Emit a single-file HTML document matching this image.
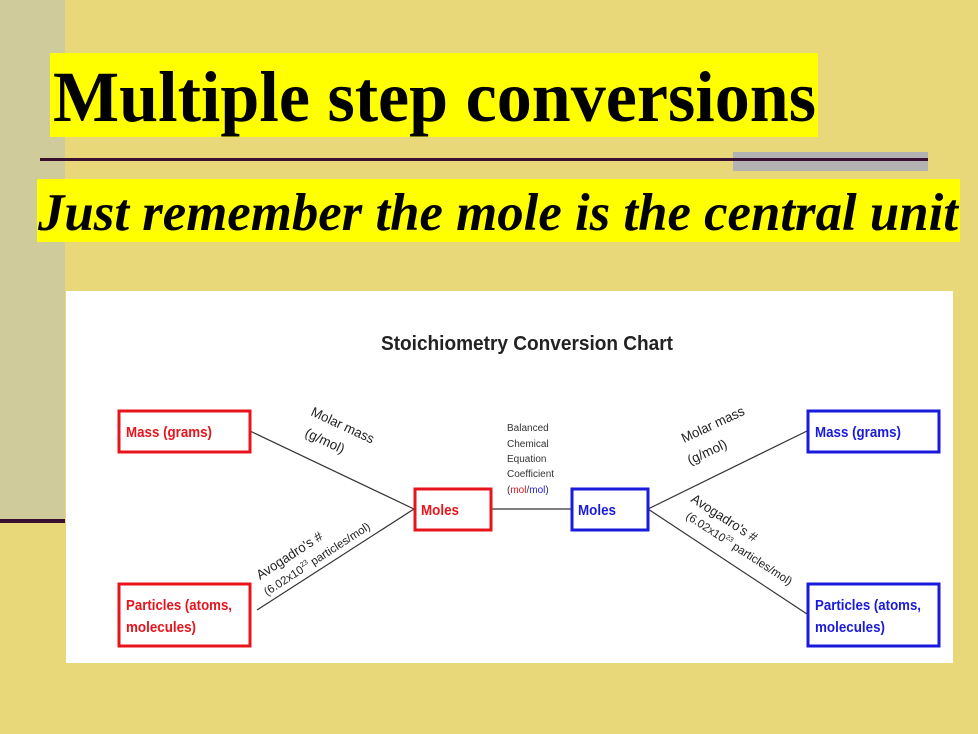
<!DOCTYPE html>
<html><head><meta charset="utf-8"><style>
body{margin:0;width:978px;height:734px;background:#E8D87A;position:relative;overflow:hidden;font-family:"Liberation Sans",sans-serif}
.a{position:absolute}
</style></head><body>
<div class="a" style="left:0;top:0;width:65px;height:520px;background:#CFCB9A"></div>
<div class="a" style="left:0;top:519px;width:65px;height:4px;background:#3a1030"></div>
<div class="a" style="left:50px;top:53px;width:768px;height:84px;background:#ffff00"></div>
<div class="a" style="left:733px;top:152px;width:195px;height:19px;background:#b3b3b3"></div>
<div class="a" style="left:40px;top:158px;width:888px;height:3px;background:#3a1030"></div>
<div class="a" style="left:37px;top:179px;width:923px;height:63px;background:#ffff00"></div>
<div class="a" style="left:66px;top:291px;width:887px;height:372px;background:#fff"></div>
<svg class="a" style="left:0;top:0" width="978" height="734" font-family="Liberation Sans, sans-serif">
<text x="53" y="121" font-family="Liberation Serif, serif" font-weight="bold" font-size="72" textLength="763" lengthAdjust="spacingAndGlyphs">Multiple step conversions</text>
<text x="38" y="230" font-family="Liberation Serif, serif" font-weight="bold" font-style="italic" font-size="53" textLength="920" lengthAdjust="spacingAndGlyphs">Just remember the mole is the central unit</text>
<text x="527" y="350" text-anchor="middle" font-size="20" font-weight="bold" fill="#222" textLength="292" lengthAdjust="spacingAndGlyphs">Stoichiometry Conversion Chart</text>
<g stroke="#333" stroke-width="1.2">
<line x1="250" y1="431" x2="414" y2="509"/><line x1="257" y1="610" x2="414" y2="509"/>
<line x1="491" y1="509" x2="571" y2="509"/>
<line x1="648" y1="509" x2="807" y2="431"/><line x1="648" y1="509" x2="807" y2="614"/>
</g>
<g fill="none" stroke-width="3">
<rect x="119" y="411" width="131" height="41" stroke="#e8141c"/>
<rect x="119" y="584" width="131" height="62" stroke="#e8141c"/>
<rect x="415" y="489" width="76" height="41" stroke="#e8141c"/>
<rect x="572" y="489" width="76" height="41" stroke="#1a1adc"/>
<rect x="808" y="411" width="131" height="41" stroke="#1a1adc"/>
<rect x="808" y="584" width="131" height="62" stroke="#1a1adc"/>
</g>
<g font-weight="bold" font-size="15">
<text x="126" y="437" fill="#e8141c" textLength="86" lengthAdjust="spacingAndGlyphs">Mass (grams)</text>
<text x="126" y="610" fill="#e8141c" textLength="106" lengthAdjust="spacingAndGlyphs">Particles (atoms,</text>
<text x="126" y="632" fill="#e8141c" textLength="70" lengthAdjust="spacingAndGlyphs">molecules)</text>
<text x="421" y="515" fill="#e8141c" textLength="38" lengthAdjust="spacingAndGlyphs">Moles</text>
<text x="578" y="515" fill="#1a1adc" textLength="38" lengthAdjust="spacingAndGlyphs">Moles</text>
<text x="815" y="437" fill="#1a1adc" textLength="86" lengthAdjust="spacingAndGlyphs">Mass (grams)</text>
<text x="815" y="610" fill="#1a1adc" textLength="106" lengthAdjust="spacingAndGlyphs">Particles (atoms,</text>
<text x="815" y="632" fill="#1a1adc" textLength="70" lengthAdjust="spacingAndGlyphs">molecules)</text>
</g>
<g font-size="10" fill="#333">
<text x="507" y="431">Balanced</text><text x="507" y="447">Chemical</text><text x="507" y="462">Equation</text><text x="507" y="477">Coefficient</text>
<text x="507" y="493">(<tspan fill="#e8141c">mol</tspan>/<tspan fill="#1a1adc">mol</tspan>)</text>
</g>
<g font-size="13.5" fill="#222">
<text transform="translate(310,415) rotate(25)" textLength="68" lengthAdjust="spacingAndGlyphs">Molar mass</text>
<text transform="translate(304,436) rotate(25)">(g/mol)</text>
<text transform="translate(260,580) rotate(-33)" textLength="76" lengthAdjust="spacingAndGlyphs">Avogadro's #</text>
<text transform="translate(267,596) rotate(-33)" font-size="11.5">(6.02x10<tspan font-size="7" dy="-5">23</tspan><tspan dy="5"> particles/mol)</tspan></text>
<text transform="translate(684,443) rotate(-25)" textLength="68" lengthAdjust="spacingAndGlyphs">Molar mass</text>
<text transform="translate(690,465) rotate(-25)">(g/mol)</text>
<text transform="translate(690,501) rotate(33)" textLength="76" lengthAdjust="spacingAndGlyphs">Avogadro's #</text>
<text transform="translate(685,518) rotate(33)" font-size="11.5">(6.02x10<tspan font-size="7" dy="-5">23</tspan><tspan dy="5"> particles/mol)</tspan></text>
</g>
</svg>
</body></html>
